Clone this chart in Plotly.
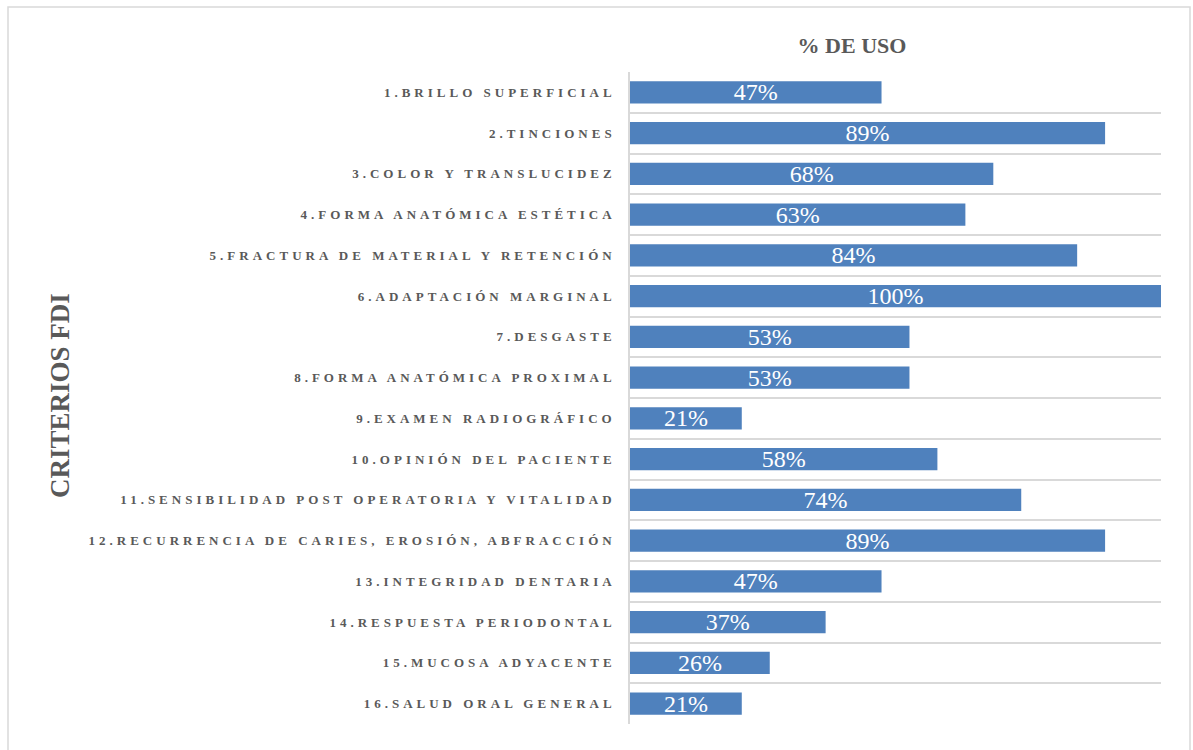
import plotly.graph_objects as go

categories = [
    "1.BRILLO SUPERFICIAL",
    "2.TINCIONES",
    "3.COLOR Y TRANSLUCIDEZ",
    "4.FORMA ANATÓMICA ESTÉTICA",
    "5.FRACTURA DE MATERIAL Y RETENCIÓN",
    "6.ADAPTACIÓN MARGINAL",
    "7.DESGASTE",
    "8.FORMA ANATÓMICA PROXIMAL",
    "9.EXAMEN RADIOGRÁFICO",
    "10.OPINIÓN DEL PACIENTE",
    "11.SENSIBILIDAD POST OPERATORIA Y VITALIDAD",
    "12.RECURRENCIA DE CARIES, EROSIÓN, ABFRACCIÓN",
    "13.INTEGRIDAD DENTARIA",
    "14.RESPUESTA PERIODONTAL",
    "15.MUCOSA ADYACENTE",
    "16.SALUD ORAL GENERAL",
]
uso_pct = [47.37, 89.47, 68.42, 63.16, 84.21, 100.0, 52.63, 52.63, 21.05, 57.89,
           73.68, 89.47, 47.37, 36.84, 26.32, 21.05]

title_text = "% DE USO"
ytitle_text = "CRITERIOS FDI"

W, H = 1193, 750
ML, MR, MT, MB = 630, 32, 72, 26
PW, PH = W - ML - MR, H - MT - MB

def px_x(p):
    return (p - ML) / PW

def px_y(p):
    return (H - MB - p) / PH

grey = "#595959"
serif = "Liberation Serif"

fig = go.Figure(go.Bar(
    y=categories,
    x=uso_pct,
    orientation="h",
    marker=dict(color="#4F81BD", line=dict(width=0)),
    texttemplate="%{x:.0f}%",
    textposition="inside",
    insidetextanchor="middle",
    constraintext="none",
    textfont=dict(family=serif, size=24, color="white"),
    width=0.54,
    hoverinfo="skip",
))

fig.update_layout(
    width=W, height=H,
    margin=dict(l=ML, r=MR, t=MT, b=MB, autoexpand=False),
    paper_bgcolor="white",
    plot_bgcolor="white",
    showlegend=False,
    title=dict(text=title_text, x=852 / W, xref="container", xanchor="center",
               y=1 - 45 / H, yref="container", yanchor="middle",
               font=dict(family=serif, size=22, color=grey, weight="bold")),
    xaxis=dict(range=[0, 100], showgrid=False, showticklabels=False,
               zeroline=False, showline=False, fixedrange=True),
    yaxis=dict(type="category", categoryorder="array",
               categoryarray=categories, autorange="reversed",
               tickson="boundaries", ticks="", showgrid=True,
               gridcolor="#D9D9D9", gridwidth=1.5,
               showline=True, linecolor="#D9D9D9", linewidth=1.5,
               ticklabelstandoff=10,
               tickfont=dict(family=serif, size=13, color=grey, weight="bold")),
    annotations=[dict(text=ytitle_text, textangle=-90, xref="paper", yref="paper",
                      x=px_x(60), y=px_y(396), xanchor="center", yanchor="middle",
                      showarrow=False,
                      font=dict(family=serif, size=27, color=grey, weight="bold"))],
    shapes=[dict(type="rect", xref="paper", yref="paper",
                 x0=px_x(8), x1=px_x(1190), y0=px_y(760), y1=px_y(7),
                 line=dict(color="#D9D9D9", width=1.5), fillcolor="rgba(0,0,0,0)",
                 layer="below")],
)

post = """
var gd = document.getElementById('{plot_id}');
function ls(){ gd.querySelectorAll('.ytick text').forEach(function(t){ t.style.letterSpacing='4px'; }); }
ls();
if (gd.on) { gd.on('plotly_afterplot', ls); }
"""

fig.write_html("out.html", post_script=post, config={"displayModeBar": False})
